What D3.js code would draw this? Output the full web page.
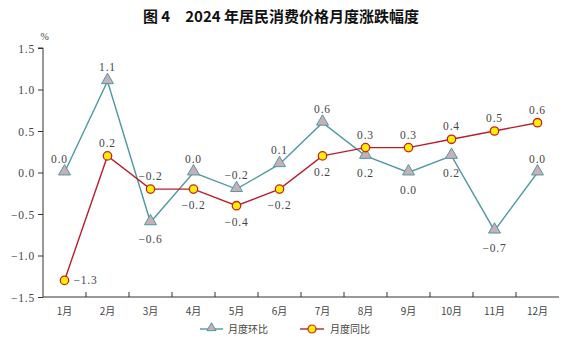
<!DOCTYPE html>
<html>
<head>
<meta charset="utf-8">
<title>2024年居民消费价格月度涨跌幅度</title>
<style>
  body { margin: 0; background: #fff; }
  svg { display: block; }
  .num { font-family: "Liberation Serif", "DejaVu Serif", serif; font-size: 11.5px; fill: #444; letter-spacing: 0.8px; }
  .cjk { font-family: "Noto Sans CJK SC", sans-serif; font-size: 10px; fill: #444; }
  .title { font-family: "Noto Sans CJK SC", sans-serif; font-size: 15px; font-weight: 700; fill: #111; }
</style>
<script src="https://d3js.org/d3.v7.min.js"></script>
</head>
<body>
<script>
const months = ['1月','2月','3月','4月','5月','6月','7月','8月','9月','10月','11月','12月'];
const mom = [0.0, 1.1, -0.6, 0.0, -0.2, 0.1, 0.6, 0.2, 0.0, 0.2, -0.7, 0.0];   // 月度环比
const yoy = [-1.3, 0.2, -0.2, -0.2, -0.4, -0.2, 0.2, 0.3, 0.3, 0.4, 0.5, 0.6]; // 月度同比
const yTicks = [-1.5, -1.0, -0.5, 0.0, 0.5, 1.0, 1.5];

// where each value label sits: a = above, b = below, r = right
const momPos = ['a','a','b','a','a','a','a','b','b','b','b','a'];
const yoyPos = ['r','a','a','b','b','b','b','a','a','a','a','a'];

const W = 570, H = 341;
const teal = '#4f98a3', red = '#b5202c';

const svg = d3.select('body').append('svg').attr('width', W).attr('height', H);

const x = d3.scaleBand().domain(months).range([43, 559]);
const y = d3.scaleLinear().domain([-1.5, 1.5]).range([297, 48]);
const cx = m => x(m) + x.bandwidth() / 2;
const fmt = d3.format('.1f');
const f = v => fmt(v).replace('-', '−');

svg.append('text').attr('class', 'title')
  .attr('x', 281).attr('y', 22).attr('text-anchor', 'middle')
  .text('图 4　2024 年居民消费价格月度涨跌幅度');

// y axis
const yAxis = svg.append('g').attr('transform', 'translate(43,0)')
  .call(d3.axisLeft(y).tickValues(yTicks).tickSize(5).tickFormat(f));
yAxis.select('.domain').attr('stroke', '#333').attr('d', `M-5,${y(1.5)}H0V${y(-1.5)}`);
yAxis.selectAll('.tick line').attr('stroke', '#333');
yAxis.selectAll('.tick text').attr('class', 'num').attr('x', -8).attr('dy', '0.35em');
svg.append('text').attr('class', 'num').attr('x', 45).attr('y', 40)
  .attr('text-anchor', 'middle').style('font-size', '10px').text('%');

// x axis with ticks at band boundaries
const xg = svg.append('g').attr('transform', `translate(0,${y(-1.5)})`);
xg.append('line').attr('x1', 43).attr('x2', 559).attr('stroke', '#333');
xg.selectAll('line.tk').data(months.slice(1)).join('line').attr('class', 'tk')
  .attr('x1', d => x(d)).attr('x2', d => x(d)).attr('y1', 0).attr('y2', -5).attr('stroke', '#333');
xg.selectAll('text').data(months).join('text').attr('class', 'cjk')
  .attr('x', d => cx(d)).attr('y', 18).attr('text-anchor', 'middle').text(d => d);

const line = d3.line().x((d, i) => cx(months[i])).y(d => y(d));
const tri = d3.symbol().type(d3.symbolTriangle).size(62);

// 环比 series
svg.append('path').datum(mom).attr('d', line).attr('fill', 'none').attr('stroke', teal).attr('stroke-width', 1.4);
svg.selectAll('path.tri').data(mom).join('path').attr('class', 'tri')
  .attr('d', tri).attr('transform', (d, i) => `translate(${cx(months[i])},${y(d) - 1})`)
  .attr('fill', '#c9afb9').attr('stroke', teal).attr('stroke-width', 1);

// 同比 series
svg.append('path').datum(yoy).attr('d', line).attr('fill', 'none').attr('stroke', red).attr('stroke-width', 1.4);
svg.selectAll('circle.dot').data(yoy).join('circle').attr('class', 'dot')
  .attr('cx', (d, i) => cx(months[i])).attr('cy', d => y(d)).attr('r', 4.2)
  .attr('fill', '#ffee00').attr('stroke', '#c0281e').attr('stroke-width', 1.3);

function labels(data, pos, up, down) {
  svg.append('g').selectAll('text').data(data).join('text').attr('class', 'num')
    .attr('text-anchor', (d, i) => pos[i] === 'r' ? 'start' : 'middle')
    .attr('x', (d, i) => pos[i] === 'r' ? cx(months[i]) + 9 : cx(months[i]) - (i === 0 && pos[i] === 'a' ? 5 : 0))
    .attr('y', (d, i) => y(d) + (pos[i] === 'a' ? -up : pos[i] === 'b' ? down : 4))
    .text(d => f(d));
}
labels(mom, momPos, 10, 21);
labels(yoy, yoyPos, 9, 20);

// legend
const lg = svg.append('g').attr('transform', 'translate(0,329)');
lg.append('line').attr('x1', 200).attr('x2', 223).attr('stroke', teal).attr('stroke-width', 1.4);
lg.append('path').attr('d', d3.symbol().type(d3.symbolTriangle).size(36)).attr('transform', 'translate(211.5,-1)')
  .attr('fill', '#c9afb9').attr('stroke', teal);
lg.append('text').attr('class', 'cjk').attr('x', 228).attr('y', 3.5).text('月度环比');
lg.append('line').attr('x1', 300).attr('x2', 324).attr('stroke', red).attr('stroke-width', 1.4);
lg.append('circle').attr('cx', 312).attr('cy', 0).attr('r', 4).attr('fill', '#ffee00').attr('stroke', '#c0281e').attr('stroke-width', 1.2);
lg.append('text').attr('class', 'cjk').attr('x', 330).attr('y', 3.5).text('月度同比');
</script>
</body>
</html>
